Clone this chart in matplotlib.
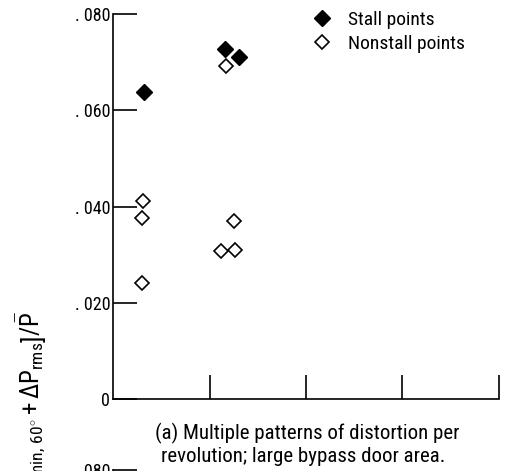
import matplotlib
matplotlib.use("Agg")
import matplotlib.pyplot as plt
from matplotlib import font_manager

# prefer a narrow sans face
names = {f.name for f in font_manager.fontManager.ttflist}
prefs = ["Liberation Sans Narrow", "Roboto Condensed", "PT Sans Narrow",
         "Archivo Narrow", "Fira Sans Condensed", "IBM Plex Sans Condensed",
         "Open Sans Condensed", "Asap Condensed", "Liberation Sans"]
face = next(p for p in prefs if p in names)
plt.rcParams["font.family"] = [face, "DejaVu Sans"]
plt.rcParams["mathtext.fontset"] = "custom"
plt.rcParams["mathtext.rm"] = face
plt.rcParams["mathtext.it"] = face
plt.rcParams["mathtext.sf"] = face

# Distortion parameter versus number of distortion patterns
stall_x = [0.32, 1.16, 1.31]
stall_y = [0.0638, 0.0727, 0.0710]
nonstall_x = [0.31, 0.30, 0.30, 1.17, 1.25, 1.12, 1.26]
nonstall_y = [0.0411, 0.0376, 0.0241, 0.0692, 0.0370, 0.0307, 0.0310]

y_ticks = [0.0, 0.020, 0.040, 0.060, 0.080]
y_tick_labels = ["0", ". 020", ". 040", ". 060", ". 080"]
x_ticks = [1, 2, 3, 4]

W, H = 516, 471
fig = plt.figure(figsize=(W / 100, H / 100), dpi=100)

def fx(px):
    return px / W

def fy(py):
    return 1 - py / H

left, right, top, bottom = 113, 499, 14, 399
ax = fig.add_axes([fx(left), fy(bottom), fx(right - left), fy(top) - fy(bottom)])

ax.plot(stall_x, stall_y, linestyle="none", marker="D", ms=7.8,
        mfc="black", mec="black", mew=1.0, label="Stall points", clip_on=False)
ax.plot(nonstall_x, nonstall_y, linestyle="none", marker="D", ms=7.6,
        mfc="white", mec="black", mew=1.2, label="Nonstall points", clip_on=False)

ax.set_xlim(0, 4)
ax.set_ylim(0, 0.080)
for s in ("top", "right"):
    ax.spines[s].set_visible(False)
for s in ("left", "bottom"):
    ax.spines[s].set_linewidth(1.2)

ax.set_yticks(y_ticks)
ax.set_yticklabels(y_tick_labels)
ax.set_xticks(x_ticks)
ax.set_xticklabels([])
ax.tick_params(axis="y", direction="in", length=17, width=1.2, pad=2, labelsize=13)
ax.tick_params(axis="x", direction="in", length=17, width=1.2)

leg = ax.legend(loc="upper left", bbox_to_anchor=(0.495, 1.028), frameon=False,
                fontsize=14, handletextpad=0.85, labelspacing=0.3,
                borderaxespad=0, handlelength=1.0)

fig.text(fx(307), fy(433), "(a) Multiple patterns of distortion per",
         ha="center", va="center", fontsize=15)
fig.text(fx(303), fy(457), "revolution; large bypass door area.",
         ha="center", va="center", fontsize=15)

fig.text(fx(31), fy(311),
         r"$\left[\Delta P_{\mathrm{min},\,60^{\circ}} + \Delta P_{\mathrm{rms}}\right]/\bar{P}$",
         rotation=90, ha="center", va="top", fontsize=18)

# top of the next panel
ax2 = fig.add_axes([fx(left), fy(470) - 0.8, fx(right - left), 0.8])
ax2.set_ylim(0, 0.080)
ax2.set_xlim(0, 4)
for s in ("top", "right", "bottom"):
    ax2.spines[s].set_visible(False)
ax2.spines["left"].set_linewidth(1.2)
ax2.set_yticks([0.080])
ax2.set_yticklabels([". 080"])
ax2.set_xticks([])
ax2.tick_params(axis="y", direction="in", length=17, width=1.2, pad=2, labelsize=13)

fig.savefig("out.png", dpi=100)
